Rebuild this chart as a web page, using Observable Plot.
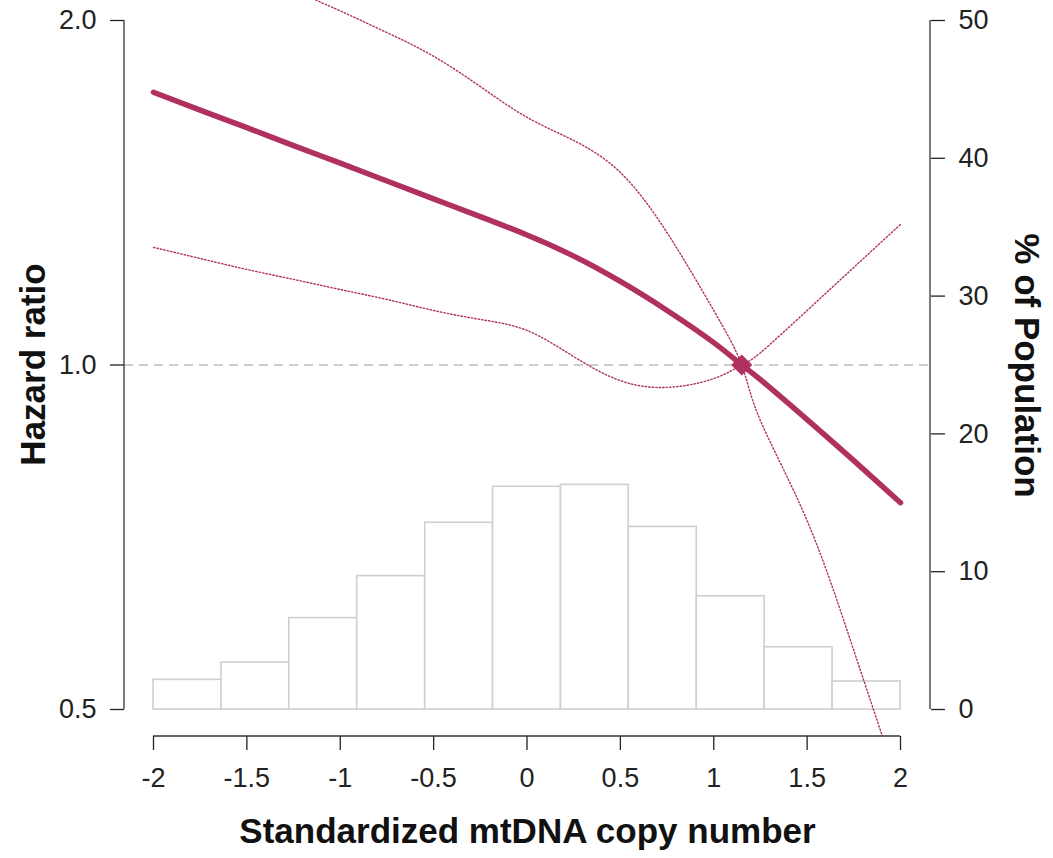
<!DOCTYPE html>
<html>
<head>
<meta charset="utf-8">
<script src="https://cdn.jsdelivr.net/npm/d3@7"></script>
<script src="https://cdn.jsdelivr.net/npm/@observablehq/plot@0.6"></script>
<style>
  html, body { margin: 0; padding: 0; background: #fff; }
  #chart svg { display: block; }
</style>
</head>
<body>
<div id="chart"></div>
<script>
// ---- data ----
const curveX = [-2, -1.75, -1.5, -1.25, -1, -0.75, -0.5, -0.25, 0, 0.25, 0.5, 0.75, 1, 1.15, 1.25, 1.5, 1.75, 2];
const hrEstimate = [1.731, 1.670, 1.612, 1.555, 1.501, 1.448, 1.397, 1.348, 1.299, 1.245, 1.183, 1.116, 1.046, 1.000, 0.971, 0.896, 0.825, 0.758];
const hrLower    = [1.267, 1.239, 1.212, 1.188, 1.164, 1.141, 1.116, 1.096, 1.072, 1.017, 0.969, 0.956, 0.973, 1.000, 1.025, 1.116, 1.217, 1.327];
const upperX     = [-1.25, -1.125, -1, -0.75, -0.5, -0.25, 0, 0.25, 0.5, 0.75, 1, 1.15, 1.25, 1.5, 1.75, 2];
const hrUpper    = [2.129, 2.082, 2.039, 1.952, 1.861, 1.751, 1.646, 1.571, 1.473, 1.305, 1.116, 1.000, 0.894, 0.731, 0.563, 0.425];
const refX = [1.15];
const refHR = [1.0];

const binEdges = [-2, -1.636, -1.273, -0.909, -0.545, -0.182, 0.182, 0.545, 0.909, 1.273, 1.636, 2];
const binPct = [2.15, 3.41, 6.63, 9.68, 13.55, 16.16, 16.3, 13.25, 8.22, 4.52, 2.03];

const xTicks = [-2, -1.5, -1, -0.5, 0, 0.5, 1, 1.5, 2];
const hrTicks = [0.5, 1, 2];
const pctTicks = [0, 10, 20, 30, 40, 50];

const xTitle = "Standardized mtDNA copy number";
const yTitle = "Hazard ratio";
const y2Title = "% of Population";

// ---- helpers ----
// right axis (% of population, linear 0..50) shares the log HR axis (0.5..2)
const pctToHR = p => Math.pow(2, p / 25 - 1);
const hrToPct = h => Math.round((Math.log2(h) + 1) * 25);

const estimate = curveX.map((x, i) => ({x, hr: hrEstimate[i]}));
const lower = curveX.map((x, i) => ({x, hr: hrLower[i]}));
const upper = upperX.map((x, i) => ({x, hr: hrUpper[i]}));
const ref = refX.map((x, i) => ({x, hr: refHR[i]}));
const bins = binPct.map((p, i) => ({x1: binEdges[i], x2: binEdges[i + 1], y1: pctToHR(0), y2: pctToHR(p)}));

const MAROON = "#B03060";
const W = 1053, H = 858;
const mL = 124, mR = 123, mT = 0, mB = 122;
const tickFont = 27, titleFont = 35;

const chart = Plot.plot({
  width: W,
  height: H,
  marginLeft: mL,
  marginRight: mR,
  marginTop: mT,
  marginBottom: mB,
  style: {fontFamily: "'Liberation Sans', Arial, sans-serif", color: "#222", background: "#fff"},
  x: {type: "linear", domain: [-2, 2], range: [153, 900]},
  y: {type: "log", domain: [0.5, 2], range: [709, 20]},
  marks: [
    Plot.rect(bins, {x1: "x1", x2: "x2", y1: "y1", y2: "y2", fill: "white", stroke: "#cfcfcf", strokeWidth: 1.6}),
    Plot.ruleY([1], {stroke: "#bdbdbd", strokeWidth: 1.4, strokeDasharray: "9,6"}),
    Plot.line(lower, {x: "x", y: "hr", stroke: MAROON, strokeWidth: 1.4, strokeDasharray: "1.4,2.1", curve: "natural", clip: true}),
    Plot.line(upper, {x: "x", y: "hr", stroke: MAROON, strokeWidth: 1.4, strokeDasharray: "1.4,2.1", curve: "natural", clip: true}),
    Plot.line(estimate, {x: "x", y: "hr", stroke: MAROON, strokeWidth: 5.5, curve: "natural", clip: true}),
    Plot.dot(ref, {x: "x", y: "hr", symbol: "diamond2", r: 9.5, fill: MAROON, stroke: "none"}),
    Plot.axisY({anchor: "left", ticks: hrTicks, tickFormat: d => d.toFixed(1), tickSize: 14, tickPadding: 14, fontSize: tickFont, label: null, strokeWidth: 1.3}),
    Plot.axisY({anchor: "right", ticks: pctTicks.map(pctToHR), tickFormat: hrToPct, tickSize: 14, tickPadding: 14, fontSize: tickFont, label: null, strokeWidth: 1.3}),
    Plot.axisX({anchor: "bottom", ticks: xTicks, tickFormat: d => String(d), tickSize: 14, tickPadding: 17, fontSize: tickFont, label: null, strokeWidth: 1.3}),
    Plot.text([yTitle], {frameAnchor: "left", rotate: -90, dx: -91, dy: -4, textAnchor: "middle", lineAnchor: "middle", fontSize: titleFont, fontWeight: "bold", fill: "#111"}),
    Plot.text([y2Title], {frameAnchor: "right", rotate: 90, dx: 96, dy: -3, textAnchor: "middle", lineAnchor: "middle", fontSize: titleFont, fontWeight: "bold", fill: "#111"}),
    Plot.text([xTitle], {frameAnchor: "bottom", dy: 95, textAnchor: "middle", lineAnchor: "middle", fontSize: titleFont, fontWeight: "bold", fill: "#111"})
  ]
});

// axis domain lines, positioned through the plot's own scales
const xs = chart.scale("x"), ys = chart.scale("y");
const svg = d3.select(chart);
const g = svg.append("g").attr("stroke", "#333").attr("stroke-width", 1.3).attr("fill", "none");
g.append("line").attr("x1", mL).attr("x2", mL).attr("y1", ys.apply(hrTicks[2])).attr("y2", ys.apply(hrTicks[0]));
g.append("line").attr("x1", W - mR).attr("x2", W - mR).attr("y1", ys.apply(pctToHR(pctTicks[5]))).attr("y2", ys.apply(pctToHR(pctTicks[0])));
g.append("line").attr("x1", xs.apply(xTicks[0])).attr("x2", xs.apply(xTicks[8])).attr("y1", H - mB).attr("y2", H - mB);

document.getElementById("chart").appendChild(chart);
</script>
</body>
</html>
